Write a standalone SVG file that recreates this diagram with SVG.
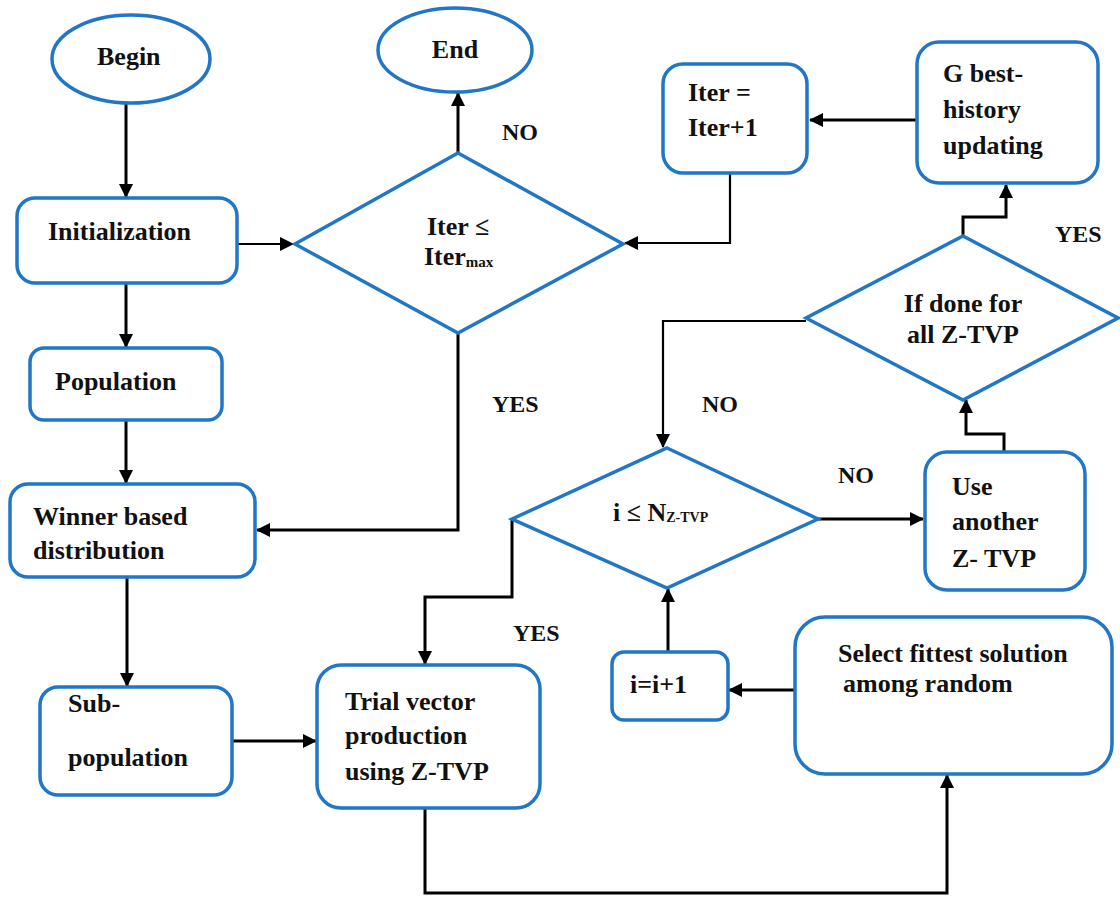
<svg xmlns="http://www.w3.org/2000/svg" width="1120" height="903" viewBox="0 0 1120 903">
<defs>
<marker id="ah" markerUnits="userSpaceOnUse" markerWidth="14" markerHeight="14" refX="13" refY="7" orient="auto">
<path d="M0,0 L14,7 L0,14 z" fill="#000"/>
</marker>
<style>
.n{fill:#fff;stroke:#2176c6;stroke-width:3.5}
.t{font-weight:bold;font-size:26px;fill:#111}
.l{font-weight:bold;font-size:24px;fill:#111}
.c{fill:none;stroke:#000;stroke-width:3}
.c2{fill:none;stroke:#000;stroke-width:2.2}
</style>
</defs>
<rect width="1120" height="903" fill="#fff"/>
<g id="connectors">
<path class="c" d="M126,104 V197" marker-end="url(#ah)"/>
<path class="c" d="M126,284 V347" marker-end="url(#ah)"/>
<path class="c" d="M126,421 V483" marker-end="url(#ah)"/>
<path class="c" d="M127,578 V686" marker-end="url(#ah)"/>
<path class="c" d="M232,741 H316" marker-end="url(#ah)"/>
<path class="c2" d="M232,244 H293" marker-end="url(#ah)"/>
<path class="c" d="M458,153 V93" marker-end="url(#ah)"/>
<path class="c" d="M458,334 V530 H257" marker-end="url(#ah)"/>
<path class="c2" d="M730,174 V243 H625" marker-end="url(#ah)"/>
<path class="c" d="M916,120 H810" marker-end="url(#ah)"/>
<path class="c" d="M963,236 V217 H1006 V185" marker-end="url(#ah)"/>
<path class="c2" d="M806,321 H663 V447" marker-end="url(#ah)"/>
<path class="c" d="M1004,452 V434 H966 V400" marker-end="url(#ah)"/>
<path class="c" d="M818,519 H923" marker-end="url(#ah)"/>
<path class="c" d="M512,519 V597 H425 V664" marker-end="url(#ah)"/>
<path class="c" d="M668,651 V589" marker-end="url(#ah)"/>
<path class="c" d="M795,690 H729" marker-end="url(#ah)"/>
<path class="c" d="M425,809 V893 H947 V775" marker-end="url(#ah)"/>
</g>
<g font-family="'Liberation Serif', Tinos, 'Times New Roman', 'DejaVu Serif', serif">
<g id="begin">
<ellipse class="n" cx="131" cy="59" rx="79" ry="44"/>
<text class="t" x="97" y="65">Begin</text>
</g>
<g id="end">
<ellipse class="n" cx="455" cy="50" rx="77" ry="42"/>
<text class="t" x="455" y="58" text-anchor="middle">End</text>
</g>
<g id="initialization">
<rect class="n" x="17" y="198" width="220" height="85" rx="18"/>
<text class="t" x="48" y="240">Initialization</text>
</g>
<g id="population">
<rect class="n" x="30" y="348" width="192" height="72" rx="14"/>
<text class="t" x="55" y="390">Population</text>
</g>
<g id="winner">
<rect class="n" x="10" y="484" width="245" height="93" rx="18"/>
<text class="t" x="33" y="525">Winner based</text>
<text class="t" x="33" y="559">distribution</text>
</g>
<g id="subpopulation">
<rect class="n" x="40" y="687" width="192" height="108" rx="18"/>
<text class="t" x="68" y="712">Sub-</text>
<text class="t" x="68" y="766">population</text>
</g>
<g id="trial">
<rect class="n" x="317" y="665" width="223" height="143" rx="24"/>
<text class="t" x="345" y="710">Trial vector</text>
<text class="t" x="345" y="744">production</text>
<text class="t" x="345" y="780">using Z-TVP</text>
</g>
<g id="cond-iter">
<polygon class="n" points="458,153 623,244 458,333 295,244"/>
<text class="t" x="427" y="235">Iter ≤</text>
<text class="t" x="424" y="265">Iter<tspan font-size="15" dy="2">max</tspan></text>
</g>
<g id="iter-inc">
<rect class="n" x="663" y="64" width="144" height="109" rx="20"/>
<text class="t" x="688" y="101">Iter =</text>
<text class="t" x="688" y="136">Iter+1</text>
</g>
<g id="gbest">
<rect class="n" x="917" y="42" width="181" height="141" rx="22"/>
<text class="t" x="943" y="82">G best-</text>
<text class="t" x="943" y="118">history</text>
<text class="t" x="943" y="154">updating</text>
</g>
<g id="cond-all">
<polygon class="n" points="963,236 1118,318 963,400 806,318"/>
<text class="t" x="963" y="312" text-anchor="middle">If done for</text>
<text class="t" x="963" y="343" text-anchor="middle">all Z-TVP</text>
</g>
<g id="cond-i">
<polygon class="n" points="667,448 818,519 667,588 512,519"/>
<text class="t" x="613" y="521" font-size="22">i ≤ N<tspan font-size="14" dy="1">Z-TVP</tspan></text>
</g>
<g id="use-another">
<rect class="n" x="925" y="452" width="160" height="138" rx="22"/>
<text class="t" x="952" y="495">Use</text>
<text class="t" x="952" y="530">another</text>
<text class="t" x="952" y="567">Z- TVP</text>
</g>
<g id="i-inc">
<rect class="n" x="612" y="652" width="116" height="68" rx="12"/>
<text class="t" x="630" y="693">i=i+1</text>
</g>
<g id="select">
<rect class="n" x="795" y="617" width="317" height="157" rx="30"/>
<text class="t" x="838" y="662">Select fittest solution</text>
<text class="t" x="843" y="692">among random</text>
</g>
<g id="labels">
<text class="l" x="502" y="140">NO</text>
<text class="l" x="492" y="412">YES</text>
<text class="l" x="702" y="412">NO</text>
<text class="l" x="838" y="483">NO</text>
<text class="l" x="1055" y="242">YES</text>
<text class="l" x="513" y="641">YES</text>
</g>
</g>
</svg>
